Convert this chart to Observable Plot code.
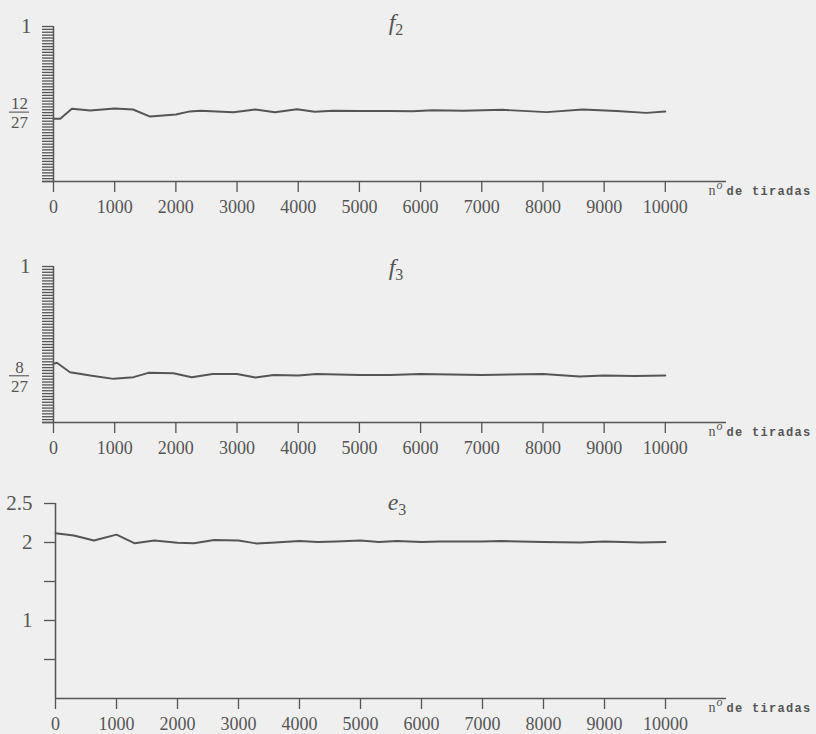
<!DOCTYPE html>
<html><head><meta charset="utf-8">
<script src="https://cdn.jsdelivr.net/npm/d3@7"></script>
<script src="https://cdn.jsdelivr.net/npm/@observablehq/plot@0.6"></script>
<style>
html,body{margin:0;padding:0;background:#efefef;}
#chart{width:816px;height:734px;overflow:hidden;position:relative;}
#chart svg{display:block;}
</style></head><body><div id="chart"></div>
<script>
// ---- data ----
const xTicks = [0, 1000, 2000, 3000, 4000, 5000, 6000, 7000, 8000, 9000, 10000];
const xLabel = "no de tiradas";

const f2Title = ["f", "2"];
const f2X = [0, 110, 300, 600, 1000, 1300, 1580, 2000, 2230, 2400, 2940, 3300, 3620, 3980, 4270, 4570, 5000, 5500, 5870, 6200, 6700, 7340, 8060, 8650, 9200, 9690, 10000];
const f2Y = [0.4045, 0.4045, 0.469, 0.458, 0.471, 0.4645, 0.419, 0.432, 0.452, 0.456, 0.447, 0.4645, 0.447, 0.466, 0.450, 0.456, 0.455, 0.455, 0.4535, 0.460, 0.456, 0.4626, 0.4477, 0.4645, 0.455, 0.443, 0.4516];
const f2Frac = {num: "12", den: "27", value: 12 / 27};

const f3Title = ["f", "3"];
const f3X = [0, 55, 270, 600, 980, 1310, 1550, 1960, 2260, 2600, 3000, 3300, 3600, 4000, 4300, 5000, 5500, 6000, 7000, 8000, 8600, 9000, 9500, 10000];
const f3Y = [0.376, 0.383, 0.3224, 0.301, 0.280, 0.2904, 0.3186, 0.316, 0.2904, 0.311, 0.311, 0.2885, 0.3045, 0.3013, 0.311, 0.3045, 0.3045, 0.311, 0.3045, 0.311, 0.2949, 0.3013, 0.298, 0.3013];
const f3Frac = {num: "8", den: "27", value: 8 / 27};

const e3Title = ["e", "3"];
const e3X = [0, 300, 630, 1000, 1300, 1620, 2000, 2270, 2600, 3000, 3300, 3600, 4000, 4300, 4600, 5000, 5300, 5600, 6000, 6300, 7000, 7300, 8000, 8600, 9000, 9600, 10000];
const e3Y = [2.119, 2.09, 2.026, 2.10, 1.99, 2.026, 1.996, 1.99, 2.032, 2.026, 1.987, 2.0, 2.019, 2.006, 2.013, 2.026, 2.006, 2.019, 2.006, 2.013, 2.013, 2.019, 2.006, 2.0, 2.013, 2.0, 2.006];
const e3Ticks = [0.5, 1, 1.5, 2, 2.5];
const e3Labels = [1, 2, 2.5];

const freqMinorTicks = d3.range(0, 55).map(i => i / 54);

// ---- drawing ----
const INK = "#555";
const SERIF = "'Liberation Serif', 'DejaVu Serif', serif";

function panel(cfg) {
  const data = cfg.xs.map((x, i) => ({x, y: cfg.ys[i]}));
  const ml = cfg.marginLeft;
  const marks = [
    Plot.axisY({ticks: cfg.yTicks, tickSize: 11, tickFormat: () => "", label: null, strokeWidth: 1.3}),
    Plot.axisY({ticks: cfg.yLabels, tickSize: 0, tickPadding: cfg.labelPad, fontSize: 21, tickFormat: d => String(d), label: null}),
    Plot.ruleX([0], {stroke: INK, strokeWidth: 1.5}),
    Plot.ruleY([cfg.yDomain[0]], {stroke: INK, strokeWidth: 1.5, insetLeft: cfg.extendX}),
    Plot.axisX({ticks: xTicks, tickSize: 11, tickPadding: 8, fontSize: 18, tickFormat: d3.format("d"), label: null, strokeWidth: 1.3}),
    Plot.line(data, {x: "x", y: "y", stroke: INK, strokeWidth: 1.9}),
    Plot.text([cfg.title.join("")], {frameAnchor: "top", lineAnchor: "middle", dx: 6, dy: cfg.titleDy, fontSize: 24}),
    Plot.text([xLabel], {frameAnchor: "bottom-right", textAnchor: "start", dx: -18, dy: 13, fontSize: 12})
  ];
  if (cfg.frac) {
    marks.push(Plot.text([cfg.frac], {y: d => d.value, text: d => d.num, frameAnchor: "left", textAnchor: "middle", dx: -34, dy: -9, fontSize: 17}));
    marks.push(Plot.text([cfg.frac], {y: d => d.value, text: d => d.den, frameAnchor: "left", textAnchor: "middle", dx: -34, dy: 10, fontSize: 17}));
  }
  const svg = Plot.plot({
    width: 816,
    height: cfg.height,
    marginTop: cfg.marginTop,
    marginBottom: cfg.marginBottom,
    marginLeft: ml,
    marginRight: 90,
    x: {domain: [0, 11000]},
    y: {domain: cfg.yDomain},
    style: {fontFamily: SERIF, color: INK, background: "transparent", overflow: "visible"},
    marks
  });
  const s = d3.select(svg);
  if (cfg.frac) {
    const yy = svg.scale("y").apply(cfg.frac.value);
    s.append("line").attr("x1", ml - 34 - 10).attr("x2", ml - 34 + 10)
      .attr("y1", yy).attr("y2", yy).attr("stroke", INK).attr("stroke-width", 1.1);
  }
  s.selectAll("text").each(function() {
    const t = d3.select(this);
    const content = this.textContent;
    if (content === cfg.title.join("")) {
      t.text("");
      t.append("tspan").attr("font-style", "italic").text(cfg.title[0]);
      t.append("tspan").attr("font-size", 16).attr("dy", 5).text(cfg.title[1]);
    } else if (content === xLabel) {
      t.text("");
      t.attr("font-family", "'Liberation Mono', 'DejaVu Sans Mono', monospace").attr("font-weight", "bold");
      t.append("tspan").attr("font-family", SERIF).attr("font-size", 14).attr("font-weight", "normal").text("n");
      t.append("tspan").attr("font-family", SERIF).attr("font-style", "italic").attr("font-weight", "normal").attr("font-size", 12).attr("dy", -6).attr("dx", 1).text("o");
      t.append("tspan").attr("dy", 6).attr("dx", 4).attr("letter-spacing", 1.3).text("de tiradas");
    }
  });
  return svg;
}

const root = document.getElementById("chart");
root.append(panel({xs: f2X, ys: f2Y, yDomain: [0, 1], height: 240, marginTop: 26, marginBottom: 59, marginLeft: 53,
  yTicks: freqMinorTicks, yLabels: [1], labelPad: 22, frac: f2Frac, title: f2Title, titleDy: -4, extendX: -11}));
root.append(panel({xs: f3X, ys: f3Y, yDomain: [0, 1], height: 240, marginTop: 26, marginBottom: 58, marginLeft: 53,
  yTicks: freqMinorTicks, yLabels: [1], labelPad: 23, frac: f3Frac, title: f3Title, titleDy: 1, extendX: -11}));
root.append(panel({xs: e3X, ys: e3Y, yDomain: [0, 2.5], height: 254, marginTop: 23, marginBottom: 36, marginLeft: 55,
  yTicks: e3Ticks, yLabels: e3Labels, labelPad: 23, frac: null, title: e3Title, titleDy: -1, extendX: 0}));
</script>
</body></html>
